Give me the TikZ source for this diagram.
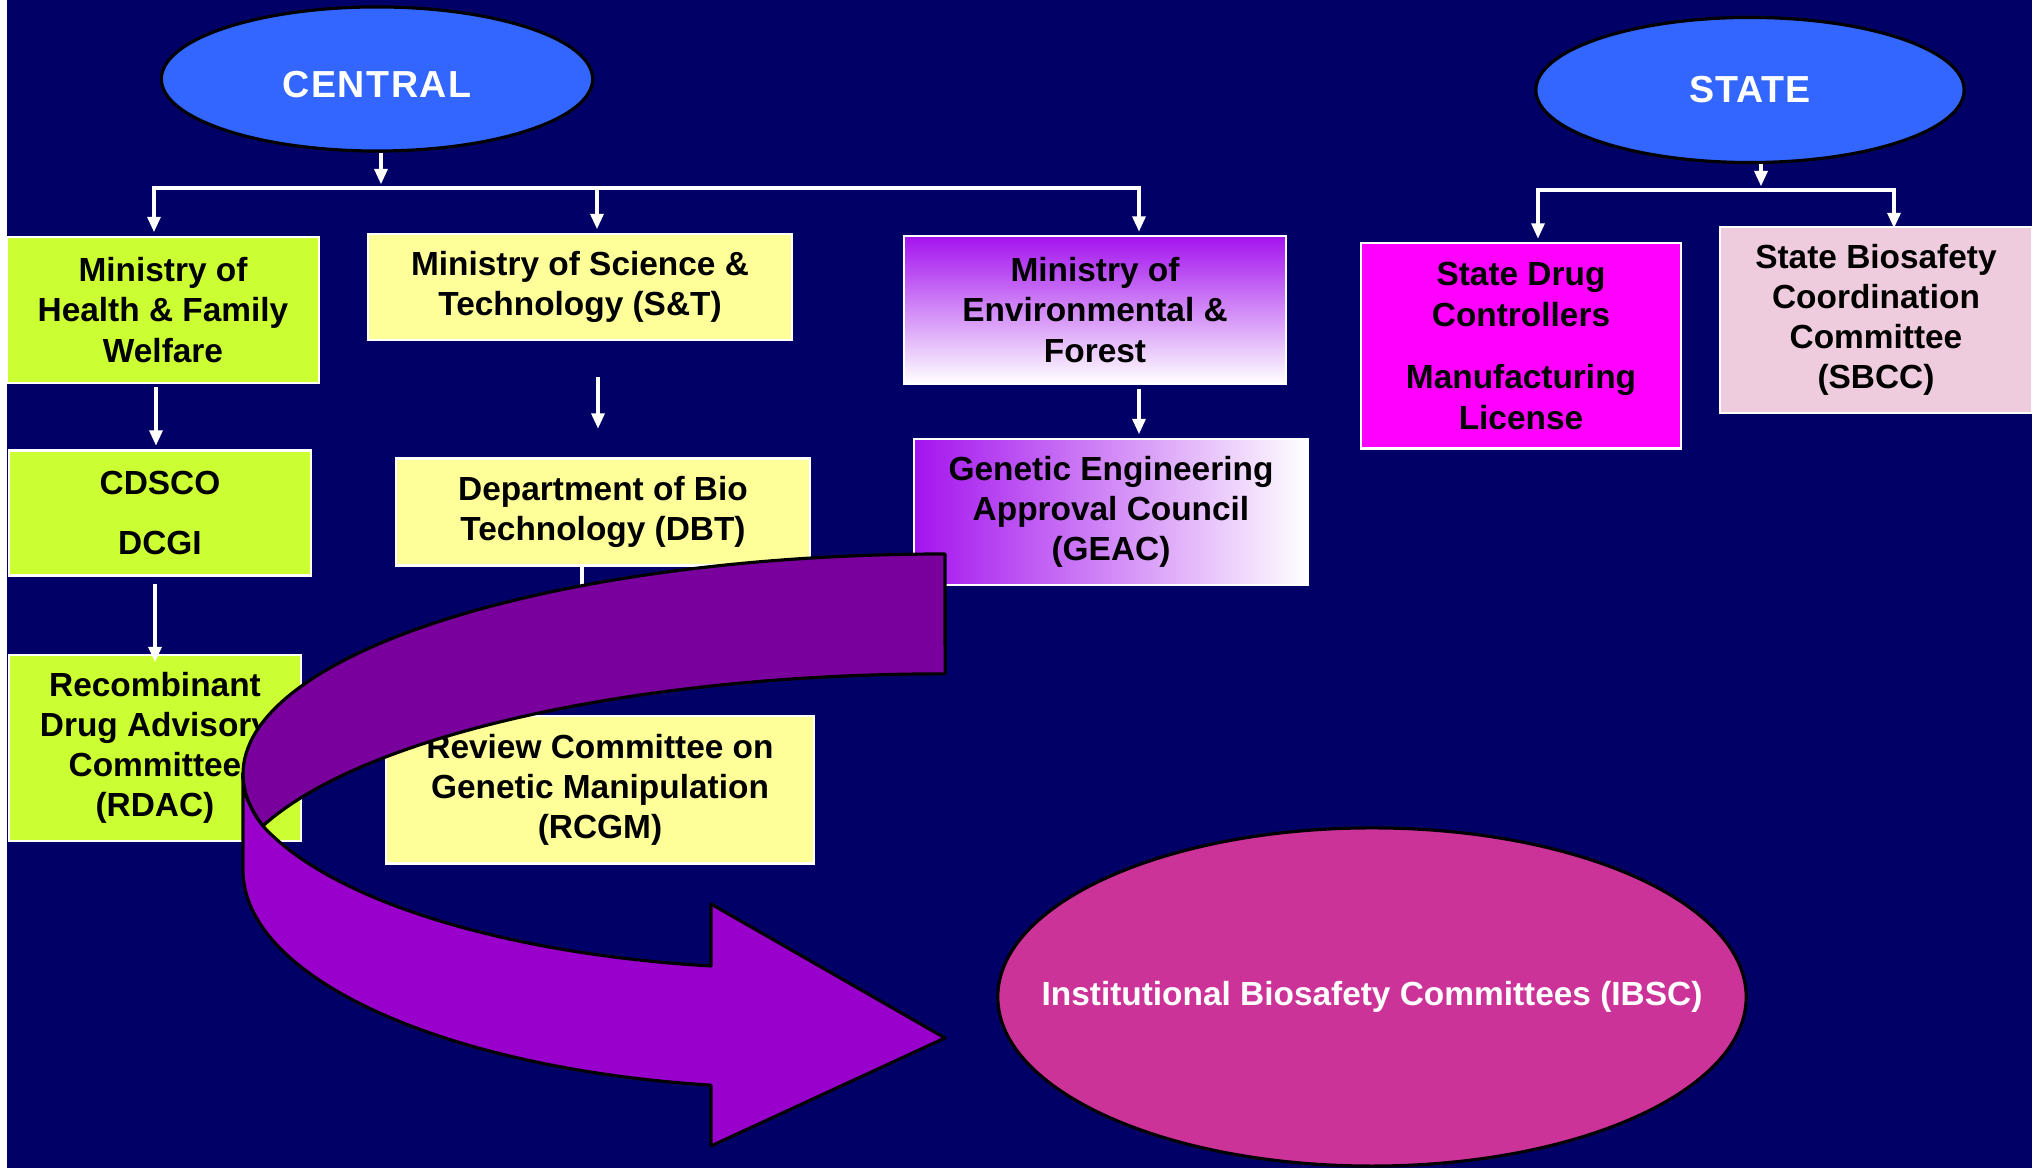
\documentclass[tikz,border=0pt]{standalone}
\usepackage{fontspec}
\setmainfont{Liberation Sans}
\usetikzlibrary{arrows.meta,calc,shapes.geometric}

\definecolor{navy}{HTML}{000066}
\definecolor{ovalblue}{HTML}{3366FF}
\definecolor{lime}{HTML}{CCFF33}
\definecolor{paleyellow}{HTML}{FFFF99}
\definecolor{violetish}{HTML}{A414EE}
\definecolor{magentabox}{HTML}{FF00FF}
\definecolor{palepink}{HTML}{EFCCDD}
\definecolor{ibscpink}{HTML}{CC3399}
\definecolor{bandback}{HTML}{7A009E}
\definecolor{bandfront}{HTML}{9900CC}

\tikzset{
  box/.style={draw=white, line width=0.6pt, inner sep=0pt, align=center, text=black,
    font=\bfseries\fontsize{9.5}{11.4}\selectfont},
  oval/.style={ellipse, draw=black, line width=0.9pt, inner sep=0pt, text=white},
  wire/.style={draw=white, line width=1.4pt},
  link/.style={wire, -{Triangle[width=3.6pt,length=4.4pt]}, shorten >=1pt},
  band/.style={draw=black, line width=0.9pt, line join=round}
}

\begin{document}
\begin{tikzpicture}[x=0.01cm, y=-0.01cm]
		%%%%% START %%%%%
		\useasboundingbox (0,0) rectangle (2035,1168);
		\fill[white] (0,0) rectangle (2035,1168);
		\fill[navy] (7,0) rectangle (2032,1168);
		
		% central side
		\node[oval, fill=ovalblue, minimum width=4.31cm, minimum height=1.44cm, text height=10.5pt, text depth=0pt,
		      font=\bfseries\fontsize{10.7}{12}\selectfont\addfontfeature{LetterSpace=4}] (central) at (377,79) {CENTRAL};
		\node[box, fill=lime, minimum width=3.12cm, minimum height=1.46cm] (health) at (163,310)
		     {Ministry of\\Health \& Family\\Welfare};
		\node[box, fill=paleyellow, minimum width=4.23cm, minimum height=1.06cm] (st) at (580,287)
		     {Ministry of Science \&\\Technology (S\&T)};
		\node[box, top color=violetish, bottom color=white, minimum width=3.82cm, minimum height=1.47cm] (moef) at (1095,310)
		     {Ministry of\\Environmental \&\\Forest};
		
		\node[box, fill=lime, minimum width=3.02cm, minimum height=1.25cm] (cdsco) at (160,513)
		     {CDSCO\\[5.7pt]DCGI};
		\node[box, fill=lime, minimum width=2.92cm, minimum height=1.86cm] (rdac) at (155,748)
		     {Recombinant\\Drug Advisory\\Committee\\(RDAC)};
		\node[box, fill=paleyellow, minimum width=4.14cm, minimum height=1.07cm] (dbt) at (603,512)
		     {Department of Bio\\Technology (DBT)};
		\node[box, fill=paleyellow, minimum width=4.27cm, minimum height=1.47cm] (rcgm) at (600,790)
		     {Review Committee on\\Genetic Manipulation\\(RCGM)};
		\node[box, left color=violetish, right color=white, minimum width=3.93cm, minimum height=1.46cm] (geac) at (1111,512)
		     {Genetic Engineering\\Approval Council\\(GEAC)};
		
		% state side
		\node[oval, fill=ovalblue, minimum width=4.28cm, minimum height=1.45cm,
		      font=\bfseries\fontsize{10.7}{12}\selectfont\addfontfeature{LetterSpace=2}] (state) at (1750,90) {STATE};
		\node[box, fill=magentabox, minimum width=3.19cm, minimum height=2.05cm] (sdc) at (1521,346)
		     {State Drug\\Controllers\\[6.5pt]Manufacturing\\License};
		\node[box, fill=palepink, minimum width=3.12cm, minimum height=1.86cm] (sbcc) at (1876,320)
		     {State Biosafety\\Coordination\\Committee\\(SBCC)};
		
		\node[oval, fill=ibscpink, minimum width=7.48cm, minimum height=3.38cm,
		      font=\bfseries\fontsize{9.5}{11.4}\selectfont] (ibsc) at (1372,997)
		     {\makebox[0pt]{Institutional Biosafety Committees (IBSC)}};
		
		% connectors
		\coordinate (cbar) at (381,188);
		\coordinate (cl) at (154,188);
		\coordinate (cm) at (597,188);
		\coordinate (cr) at (1139,188);
		\draw[link] (central.south -| cbar) -- (cbar);
		\draw[link] (cbar) -- (cl) -- (cl |- health.north);
		\draw[link] (cm) -- (cm |- st.north);
		\draw[link] (cbar) -- (cr) -- (cr |- moef.north);
		
		\coordinate (sbar) at (1761,190);
		\coordinate (sl) at (1538,190);
		\coordinate (sr) at (1894,190);
		\draw[link] (state.south -| sbar) -- (sbar);
		\draw[link] (sbar) -- (sl) -- (sl |- sdc.north);
		\draw[link] (sbar) -- (sr) -- ($(sr |- sbcc.north)+(0,6)$);
		
		\draw[link] ($(health.south -| 156,0)+(0,3)$) -- (cdsco.north -| 156,0);
		\draw[link] ($(cdsco.south -| 155,0)+(0,7)$) -- ($(rdac.north -| 155,0)+(0,12)$);
		\draw[link] ($(st.south -| 598,0)+(0,36)$) -- ($(dbt.north -| 598,0)+(0,-25)$);
		\draw[wire] (dbt.south -| 582,0) -- ++(0,40);
		\draw[link] ($(moef.south -| 1139,0)+(0,4)$) -- (geac.north -| 1139,0);
		
		% curved arrow, back part
		\filldraw[band, fill=bandback] (945,554)
		    arc[start angle=270, end angle=166.35, x radius=702, y radius=220]
		    arc[start angle=199.1, end angle=270, x radius=722, y radius=226] -- cycle;
		% curved arrow, front part and head
		\filldraw[band, fill=bandfront] (243,774) -- (243,870)
		    arc[start angle=180, end angle=99.2, x radius=557, y radius=218]
		    -- (711,1146) -- (945,1038) -- (711,904) -- (711,966)
		    arc[start angle=99, end angle=161.6, x radius=566, y radius=209]
		    arc[start angle=166.35, end angle=180, x radius=702, y radius=220] -- cycle;
		%%%%% END %%%%%
\end{tikzpicture}
\end{document}
